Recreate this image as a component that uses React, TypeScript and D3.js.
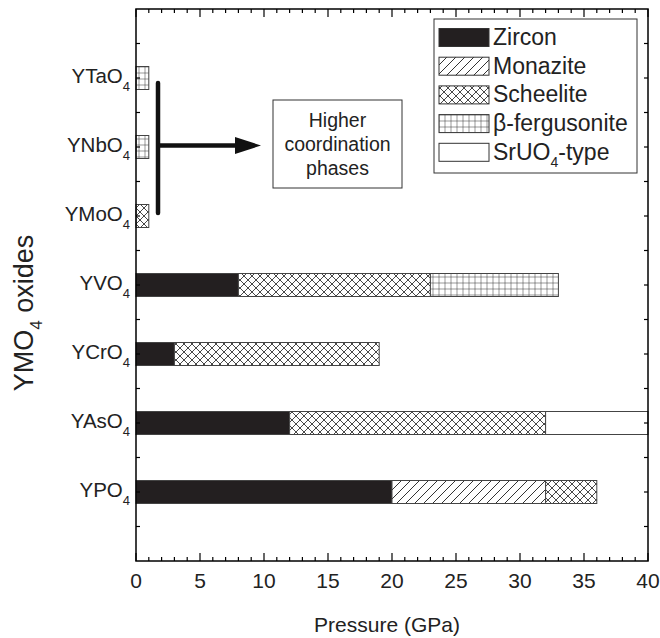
import React from "react";
import * as d3 from "d3";

// ---- data ----
const compounds = ["YPO4", "YAsO4", "YCrO4", "YVO4", "YMoO4", "YNbO4", "YTaO4"];
const compoundLabels = ["YPO", "YAsO", "YCrO", "YVO", "YMoO", "YNbO", "YTaO"];
const phaseNames = ["Zircon", "Monazite", "Scheelite", "β-fergusonite", "SrUO4-type"];
// phase index sequence for each compound
const phaseSeq = [
  [0, 1, 2],
  [0, 2, 4],
  [0, 2],
  [0, 2, 3],
  [2],
  [3],
  [3],
];
// boundaries (GPa) between successive phases
const bounds = [
  [0, 20, 32, 36],
  [0, 12, 32, 40],
  [0, 3, 19],
  [0, 8, 23, 33],
  [0, 1],
  [0, 1],
  [0, 1],
];
const xTicks = [0, 5, 10, 15, 20, 25, 30, 35, 40];
const annotationLines = ["Higher", "coordination", "phases"];

const W = 660, H = 638;
const FONT = "'Liberation Sans', Arial, Helvetica, sans-serif";
const L = 136, R = 648, T = 9, B = 561;

const fills = ["#231f20", "url(#pMon)", "url(#pSch)", "url(#pFer)", "#ffffff"];

export default function App() {
  const x = d3.scaleLinear().domain([0, 40]).range([L, R]);
  const y = d3.scaleLinear().domain([0, 8]).range([B, T]);
  const barH = 23;
  const minor = d3.range(0, 41, 1);
  const yTicks = d3.range(0.5, 8, 0.5);

  const segs: any[] = [];
  compounds.forEach((c, i) => {
    phaseSeq[i].forEach((p, j) => {
      segs.push({ c, i, p, x0: bounds[i][j], x1: bounds[i][j + 1] });
    });
  });

  const legendX = 434, legendY = 19, legendW = 203, legendH = 154;
  const rowH = 28.7;

  return (
    <svg width={W} height={H} style={{ position: "absolute", left: 0, top: 0, background: "#fff" }} fontFamily={FONT}>
      <defs>
        <pattern id="pMon" patternUnits="userSpaceOnUse" width={9} height={9}>
          <rect width={9} height={9} fill="#fff" />
          <path d="M0,9 L9,0 M-2,2 L2,-2 M7,11 L11,7" stroke="#333" strokeWidth={1} />
        </pattern>
        <pattern id="pSch" patternUnits="userSpaceOnUse" width={8} height={8}>
          <rect width={8} height={8} fill="#fff" />
          <path d="M0,8 L8,0 M-2,2 L2,-2 M6,10 L10,6 M0,0 L8,8 M-2,6 L2,10 M6,-2 L10,2" stroke="#333" strokeWidth={0.9} />
        </pattern>
        <pattern id="pFer" patternUnits="userSpaceOnUse" width={6} height={6} x={0.5} y={0.5}>
          <rect width={6} height={6} fill="#fff" />
          <path d="M0,0 H6 M0,0 V6" stroke="#333" strokeWidth={1} />
        </pattern>
      </defs>

      {/* bars */}
      {segs.map((s, k) => (
        <rect
          key={k}
          x={x(s.x0)}
          y={y(s.i + 1) - barH / 2}
          width={x(s.x1) - x(s.x0)}
          height={barH}
          fill={fills[s.p]}
          stroke="#444"
          strokeWidth={1}
        />
      ))}

      {/* frame */}
      <rect x={L} y={T} width={R - L} height={B - T} fill="none" stroke="#000" strokeWidth={1.5} />

      {/* x ticks bottom & top */}
      {minor.map((v) => {
        const major = v % 5 === 0;
        const len = major ? 8 : 4;
        return (
          <g key={v}>
            <line x1={x(v)} x2={x(v)} y1={B} y2={B - len} stroke="#000" strokeWidth={1.2} />
            <line x1={x(v)} x2={x(v)} y1={T} y2={T + len} stroke="#000" strokeWidth={1.2} />
          </g>
        );
      })}
      {xTicks.map((v) => (
        <text key={v} x={x(v)} y={588} textAnchor="middle" fontSize={21} fill="#222">
          {v}
        </text>
      ))}

      {/* y ticks left & right */}
      {yTicks.map((v) => (
        <g key={v}>
          <line x1={L} x2={L + 4} y1={y(v)} y2={y(v)} stroke="#000" strokeWidth={1.2} />
          <line x1={R} x2={R - 4} y1={y(v)} y2={y(v)} stroke="#000" strokeWidth={1.2} />
        </g>
      ))}
      {compoundLabels.map((lab, i) => (
        <text key={lab} x={130} y={y(i + 1) + 5} textAnchor="end" fontSize={20.5} fill="#222">
          <tspan>{lab}</tspan>
          <tspan dy={8} fontSize={13}>4</tspan>
        </text>
      ))}

      {/* axis titles */}
      <text x={387} y={632} textAnchor="middle" fontSize={21} fill="#222">
        Pressure (GPa)
      </text>
      <text transform={`translate(33,313) rotate(-90)`} textAnchor="middle" fontSize={27} fill="#222">
        <tspan>YMO</tspan>
        <tspan dy={9} fontSize={17}>4</tspan>
        <tspan dy={-9}> oxides</tspan>
      </text>

      {/* annotation */}
      <line x1={158} x2={158} y1={83} y2={213} stroke="#111" strokeWidth={4.5} strokeLinecap="round" />
      <line x1={158} x2={238} y1={145.5} y2={145.5} stroke="#111" strokeWidth={4.5} />
      <path d="M235,137 L261,145.5 L235,154 Z" fill="#111" />
      <rect x={273} y={100} width={129} height={88} fill="#fff" stroke="#333" strokeWidth={1} />
      {annotationLines.map((t, i) => (
        <text key={t} x={337.5} y={127 + i * 24} textAnchor="middle" fontSize={19.5} fill="#222">
          {t}
        </text>
      ))}

      {/* legend */}
      <rect x={legendX} y={legendY} width={legendW} height={legendH} fill="#fff" stroke="#333" strokeWidth={1} />
      {phaseNames.map((n, i) => {
        const cy = 37.5 + i * rowH;
        return (
          <g key={n}>
            <rect x={439} y={cy - 9} width={50} height={18} fill={fills[i]} stroke="#333" strokeWidth={1} />
            {i === 4 ? (
              <text x={493} y={cy + 7.5} fontSize={23} fill="#222">
                <tspan>SrUO</tspan>
                <tspan dy={7} fontSize={14}>4</tspan>
                <tspan dy={-7}>-type</tspan>
              </text>
            ) : (
              <text x={493} y={cy + 7.5} fontSize={23} fill="#222">
                {n}
              </text>
            )}
          </g>
        );
      })}
    </svg>
  );
}
